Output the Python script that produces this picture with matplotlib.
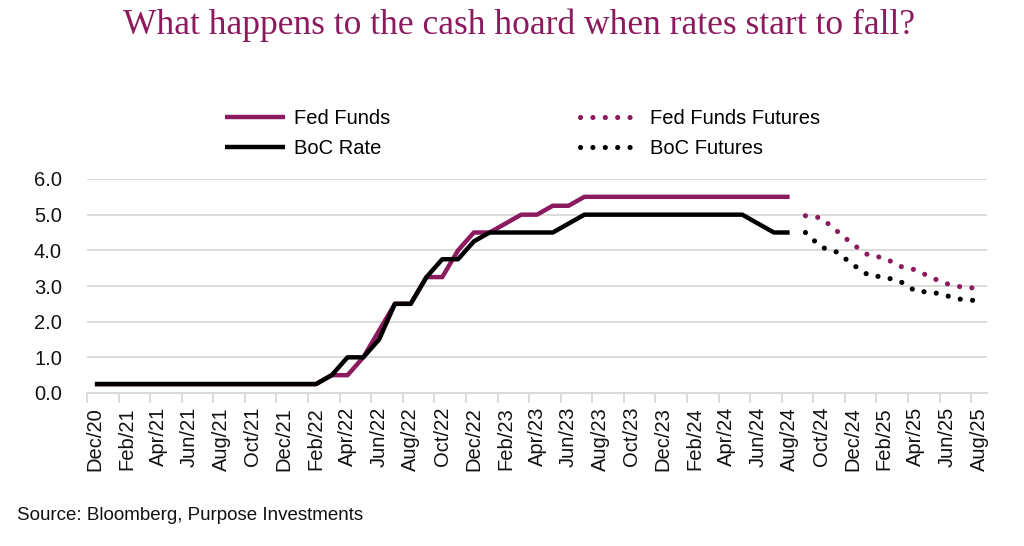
import matplotlib
matplotlib.use("Agg")
import matplotlib.pyplot as plt
import numpy as np

# monthly series, Dec/20 = month 0
fed_funds = [0.25] * 15 + [0.5, 0.5, 1.0, 1.75, 2.5, 2.5, 3.25, 3.25, 4.0, 4.5,
                           4.5, 4.75, 5.0, 5.0, 5.25, 5.25] + [5.5] * 14
boc_rate = [0.25] * 15 + [0.5, 1.0, 1.0, 1.5, 2.5, 2.5, 3.25, 3.75, 3.75, 4.25,
                          4.5, 4.5, 4.5, 4.5, 4.5, 4.75] + [5.0] * 11 + [4.75, 4.5, 4.5]
# futures, Sep/24 .. Aug/25
fed_futures = [4.97, 4.91, 4.54, 4.17, 3.86, 3.79, 3.55, 3.45, 3.23, 3.06, 2.96, 2.94]
boc_futures = [4.50, 4.09, 3.95, 3.60, 3.30, 3.25, 3.13, 2.85, 2.83, 2.72, 2.61, 2.59]

tick_labels = ["Dec/20", "Feb/21", "Apr/21", "Jun/21", "Aug/21", "Oct/21", "Dec/21",
               "Feb/22", "Apr/22", "Jun/22", "Aug/22", "Oct/22", "Dec/22", "Feb/23",
               "Apr/23", "Jun/23", "Aug/23", "Oct/23", "Dec/23", "Feb/24", "Apr/24",
               "Jun/24", "Aug/24", "Oct/24", "Dec/24", "Feb/25", "Apr/25", "Jun/25",
               "Aug/25"]

PURPLE = "#8C1A5E"
GRID = "#D9D9D9"
plt.rcParams["font.family"] = ["Liberation Sans", "DejaVu Sans"]

fig = plt.figure(figsize=(10.24, 5.46), dpi=100)
ax = fig.add_axes([87 / 1024, 1 - 393 / 546, 900 / 1024, 214 / 546])

x_hist = np.arange(len(fed_funds))
x_fut = np.arange(len(fed_funds), len(fed_funds) + len(fed_futures))

ax.plot(x_hist, fed_funds, color=PURPLE, lw=3.2, solid_capstyle="butt", label="Fed Funds")
ax.plot(x_hist, boc_rate, color="black", lw=3.2, solid_capstyle="butt", label="BoC Rate")
dots = (0, (0.01, 2.4))
ax.plot(x_fut, fed_futures, color=PURPLE, lw=3.7, ls=dots, dash_capstyle="round",
        label="Fed Funds Futures")
ax.plot(x_fut, boc_futures, color="black", lw=3.7, ls=dots, dash_capstyle="round",
        label="BoC Futures")

ax.set_xlim(-0.5, 56.5)
ax.set_ylim(0, 6)
ax.set_yticks(np.arange(0, 6.1, 1.0))
ax.set_yticklabels([f"{v:.1f}" for v in np.arange(0, 6.1, 1.0)])
ax.yaxis.grid(True, color=GRID, lw=1.3)
ax.set_axisbelow(True)

ax.set_xticks(np.arange(0, 57, 2))
ax.set_xticklabels(tick_labels, rotation=90)
ax.set_xticks(np.arange(-0.5, 56, 2), minor=True)
ax.tick_params(axis="x", which="major", length=0, pad=10, labelsize=14.5, colors="#111111")
ax.tick_params(axis="x", which="minor", length=7, width=1.3, color=GRID)
ax.tick_params(axis="y", length=0, pad=18, labelsize=14.5, colors="#111111")

for s in ["top", "right", "left"]:
    ax.spines[s].set_visible(False)
ax.spines["bottom"].set_color(GRID)
ax.spines["bottom"].set_linewidth(1.3)

fig.legend(loc="upper left", bbox_to_anchor=(225 / 1024, 1 - 109 / 546), ncol=2,
           frameon=False, fontsize=14.5, handlelength=3.0, handletextpad=0.45,
           columnspacing=9.4, labelspacing=0.55, borderaxespad=0, borderpad=0)

fig.text(519 / 1024, 1 - 25 / 546, "What happens to the cash hoard when rates start to fall?",
         ha="center", va="center", color=PURPLE, fontsize=25.5, family="Liberation Serif")
fig.text(17 / 1024, 1 - 515 / 546, "Source: Bloomberg, Purpose Investments",
         ha="left", va="center", fontsize=13.5, color="#111111")

fig.savefig("out.png", dpi=100)
